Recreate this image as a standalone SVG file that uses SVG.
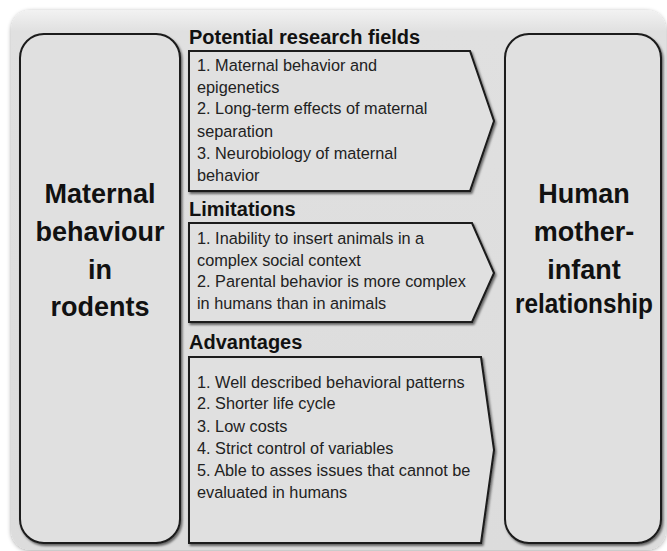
<svg xmlns="http://www.w3.org/2000/svg" width="667" height="551" viewBox="0 0 667 551">
<defs>
<filter id="sh" x="-10%" y="-10%" width="120%" height="120%">
<feDropShadow dx="1.5" dy="2" stdDeviation="1.2" flood-color="#000" flood-opacity="0.55"/>
</filter>
<filter id="osh" x="-5%" y="-5%" width="110%" height="110%">
<feDropShadow dx="0" dy="1" stdDeviation="2" flood-color="#000" flood-opacity="0.35"/>
</filter>
<linearGradient id="og" x1="0" y1="0" x2="0" y2="1">
<stop offset="0" stop-color="#f2f2f2"/>
<stop offset="0.04" stop-color="#e0e0e0"/>
<stop offset="1" stop-color="#dcdcdc"/>
</linearGradient>
</defs>
<style>
.box{fill:#e0e0e0;stroke:#1a1a1a;stroke-width:2;filter:url(#sh)}
.big{font-family:"Liberation Sans",Arial,sans-serif;font-weight:bold;font-size:27px;fill:#111;text-anchor:middle}
.ttl{font-family:"Liberation Sans",Arial,sans-serif;font-weight:bold;font-size:20px;fill:#111}
.itm{font-family:"Liberation Sans",Arial,sans-serif;font-size:16.3px;fill:#222}
</style>
<rect x="11" y="10" width="655" height="540" rx="20" fill="url(#og)" filter="url(#osh)"/>
<g id="rodents">
<rect class="box" x="20" y="34" width="160" height="509" rx="24"/>
<text class="big" x="100" y="203">Maternal</text>
<text class="big" x="100" y="241">behaviour</text>
<text class="big" x="100" y="279">in</text>
<text class="big" x="100" y="316">rodents</text>
</g>
<g id="human">
<rect class="box" x="505" y="34" width="156" height="509" rx="24"/>
<text class="big" x="584" y="203">Human</text>
<text class="big" x="584" y="241">mother-</text>
<text class="big" x="584" y="279">infant</text>
<text class="big" x="584" y="313" textLength="138" lengthAdjust="spacingAndGlyphs">relationship</text>
</g>
<g id="research">
<text class="ttl" x="189" y="44">Potential research fields</text>
<path class="box" d="M189,51 H470 L494,121 L470,191 H189 Z"/>
<text class="itm" x="197" y="71">1. Maternal behavior and</text>
<text class="itm" x="197" y="93">epigenetics</text>
<text class="itm" x="197" y="114">2. Long-term effects of maternal</text>
<text class="itm" x="197" y="137">separation</text>
<text class="itm" x="197" y="159">3. Neurobiology of maternal</text>
<text class="itm" x="197" y="181">behavior</text>
</g>
<g id="limitations">
<text class="ttl" x="189" y="216">Limitations</text>
<path class="box" d="M189,223 H472 L494,273 L472,322 H189 Z"/>
<text class="itm" x="197" y="244">1. Inability to insert animals in a</text>
<text class="itm" x="197" y="266">complex social context</text>
<text class="itm" x="197" y="287">2. Parental behavior is more complex</text>
<text class="itm" x="197" y="309">in humans than in animals</text>
</g>
<g id="advantages">
<text class="ttl" x="189" y="349">Advantages</text>
<path class="box" d="M189,357 H481 L494,450 L481,543 H189 Z"/>
<text class="itm" x="197" y="388">1. Well described behavioral patterns</text>
<text class="itm" x="197" y="409">2. Shorter life cycle</text>
<text class="itm" x="197" y="432">3. Low costs</text>
<text class="itm" x="197" y="454">4. Strict control of variables</text>
<text class="itm" x="197" y="476">5. Able to asses issues that cannot be</text>
<text class="itm" x="197" y="498">evaluated in humans</text>
</g>
<g id="connectors"></g>
</svg>
